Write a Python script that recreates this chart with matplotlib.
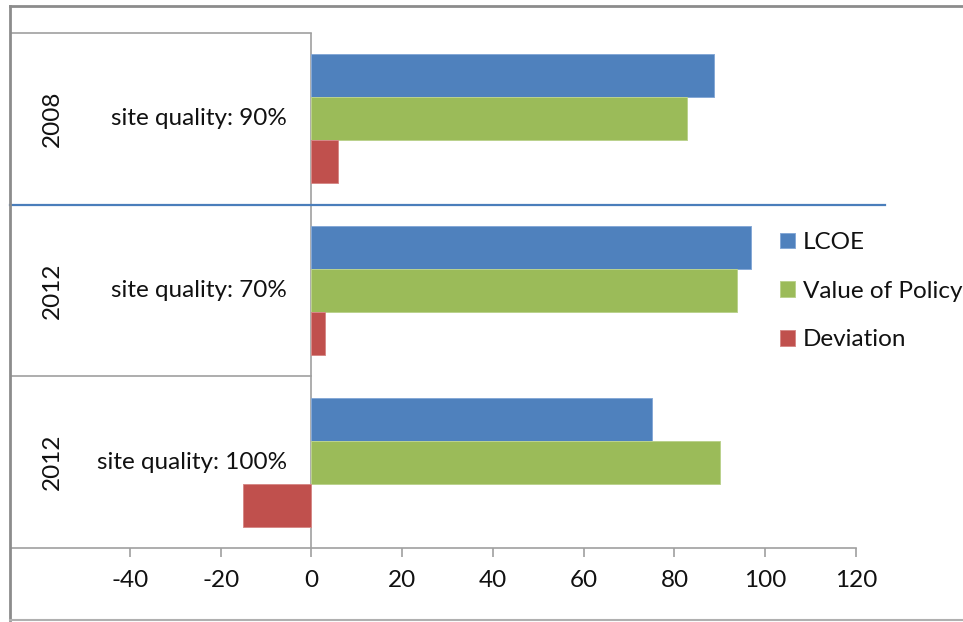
import matplotlib
matplotlib.use('Agg')
import matplotlib.pyplot as plt
from matplotlib.lines import Line2D
import numpy as np

years = ['2008', '2012', '2012']
site_labels = ['site quality: 90%', 'site quality: 70%', 'site quality: 100%']
lcoe = [88.6, 96.8, 75.1]
value_of_policy = [82.7, 93.7, 90.1]
deviation = [5.9, 3.1, -15.0]
series_names = ['LCOE', 'Value of Policy', 'Deviation']
x_ticks = [-40, -20, 0, 20, 40, 60, 80, 100, 120]

plt.rcParams['font.family'] = ['Lato', 'DejaVu Sans']
plt.rcParams['axes.unicode_minus'] = False
W, H = 963, 622
fig = plt.figure(figsize=(W / 100, H / 100), dpi=100)


def fx(px):
    return px / W


def fy(py):
    return 1 - py / H


GRAY = '#A0A0A0'
TXT = '#111111'
FS = 17.5

ax = fig.add_axes([fx(11), fy(548), fx(856) - fx(11), fy(33) - fy(548)])
n = len(years)
ypos = np.arange(n)[::-1]
bh = 0.25
colors = ['#4F81BD', '#9BBB59', '#C0504D']
edges = ['#86A9D6', '#BBD28E', '#D68A88']
for vals, off, c, e, name in zip([lcoe, value_of_policy, deviation], [bh, 0, -bh],
                                  colors, edges, series_names):
    ax.barh(ypos + off, vals, height=bh, color=c, edgecolor=e, linewidth=0.7,
            label=name, zorder=3)

xmin, xmax = -66.2, 120
ax.set_xlim(xmin, xmax)
ax.set_ylim(-0.5, n - 0.5)

for s in ['top', 'right', 'left']:
    ax.spines[s].set_visible(False)
ax.spines['bottom'].set_color(GRAY)
ax.spines['bottom'].set_linewidth(1.2)
ax.set_yticks([])
ax.set_xticks(x_ticks)
ax.tick_params(axis='x', length=6.5, width=1.2, color=GRAY, labelsize=FS,
               labelcolor=TXT, pad=9)

ax.axvline(0, color=GRAY, lw=1.2, zorder=2)
ax.plot([xmin, 0], [n - 0.5, n - 0.5], color=GRAY, lw=1.2, clip_on=False, zorder=2)
ax.plot([xmin, 0], [0.5, 0.5], color=GRAY, lw=1.2, clip_on=False, zorder=2)
ax.plot([-66.5, 126.3], [1.5, 1.5], color='#4A7EBB', lw=1.6, clip_on=False, zorder=4)

for y, yr, lab in zip(ypos, years, site_labels):
    ax.text(-57.0, y, yr, rotation=90, ha='center', va='center', fontsize=FS, color=TXT)
    ax.text(-5.4, y, lab, ha='right', va='center', fontsize=FS, color=TXT)

ax.legend(loc='upper left', bbox_to_anchor=(fx(780), fy(232)),
          bbox_transform=fig.transFigure, frameon=False, handlelength=0.6,
          handleheight=0.6, handletextpad=0.35, labelspacing=1.14,
          borderpad=0, borderaxespad=0, fontsize=FS, labelcolor=TXT)

fig.add_artist(Line2D([fx(10), fx(10)], [fy(6), fy(620)], transform=fig.transFigure,
                      color='#8C8C8C', lw=2))
fig.add_artist(Line2D([fx(10), fx(963)], [fy(6), fy(6)], transform=fig.transFigure,
                      color='#8C8C8C', lw=2))
fig.add_artist(Line2D([fx(10), fx(963)], [fy(620), fy(620)], transform=fig.transFigure,
                      color='#B0B0B0', lw=1.5))

fig.savefig('out.png', dpi=100)
